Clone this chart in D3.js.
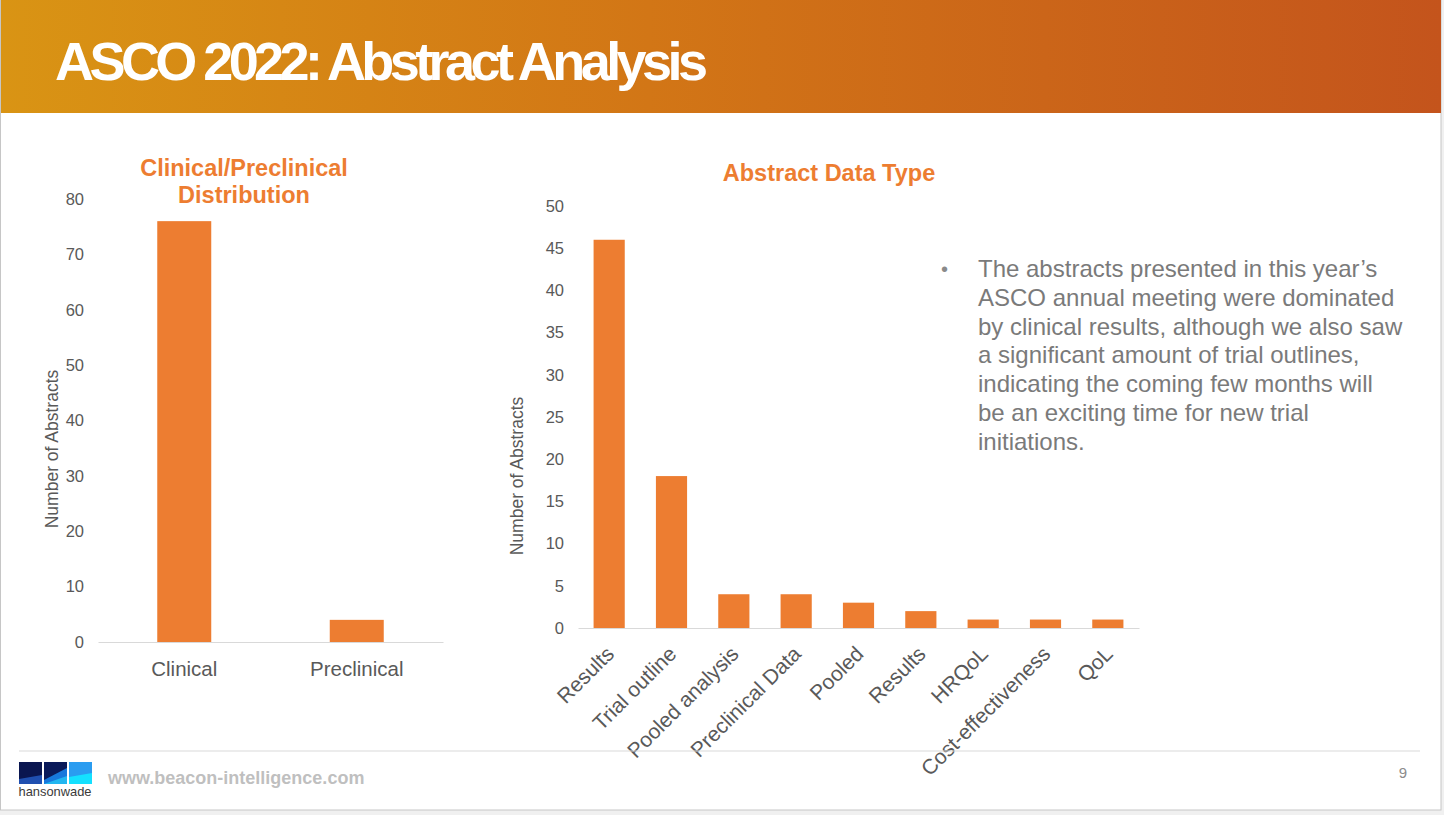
<!DOCTYPE html>
<html>
<head>
<meta charset="utf-8">
<script src="https://cdn.jsdelivr.net/npm/d3@7"></script>
<style>
  html, body { margin: 0; padding: 0; background: #f0f0f0; }
  svg { display: block; font-family: "Liberation Sans", Arial, sans-serif; }
</style>
</head>
<body>
<svg id="chart" width="1444" height="815"></svg>
<script>
// ---------------- data ----------------
const slideTitle = "ASCO 2022: Abstract Analysis";

const leftTitle = ["Clinical/Preclinical", "Distribution"];
const leftCategories = ["Clinical", "Preclinical"];
const leftValues = [76, 4];
const leftTicks = [0, 10, 20, 30, 40, 50, 60, 70, 80];

const rightTitle = "Abstract Data Type";
const rightCategories = ["Results", "Trial outline", "Pooled analysis", "Preclinical Data", "Pooled", "Results", "HRQoL", "Cost-effectiveness", "QoL"];
const rightValues = [46, 18, 4, 4, 3, 2, 1, 1, 1];
const rightTicks = [0, 5, 10, 15, 20, 25, 30, 35, 40, 45, 50];

const yAxisTitle = "Number of Abstracts";

const bulletLines = [
  "The abstracts presented in this year\u2019s",
  "ASCO annual meeting were dominated",
  "by clinical results, although we also saw",
  "a significant amount of trial outlines,",
  "indicating the coming few months will",
  "be an exciting time for new trial",
  "initiations."
];

const footerUrl = "www.beacon-intelligence.com";
const logoText = "hansonwade";
const pageNumber = "9";

// ---------------- drawing ----------------
const svg = d3.select("#chart");
const ORANGE = "#ED7D31";
const AXIS_TEXT = "#595959";
const FONT = "Liberation Sans, Arial, sans-serif";

// slide background
svg.append("rect").attr("x", 0.5).attr("y", 0.5).attr("width", 1440.5).attr("height", 809.5)
  .attr("fill", "#ffffff").attr("stroke", "#c6c6c6").attr("stroke-width", 1);

// header band
const defs = svg.append("defs");
const grad = defs.append("linearGradient").attr("id", "hdr").attr("x1", "0%").attr("x2", "100%").attr("y1", "0%").attr("y2", "0%");
grad.append("stop").attr("offset", "0%").attr("stop-color", "#d99414");
grad.append("stop").attr("offset", "45%").attr("stop-color", "#d27616");
grad.append("stop").attr("offset", "100%").attr("stop-color", "#c4541c");
svg.append("rect").attr("x", 1).attr("y", 0).attr("width", 1440).attr("height", 113).attr("fill", "url(#hdr)");

svg.append("text").attr("x", 55).attr("y", 80)
  .attr("fill", "#ffffff").attr("font-weight", "bold").attr("font-size", 54)
  .attr("textLength", 653).attr("lengthAdjust", "spacing")
  .text(slideTitle);

// ---------- left chart ----------
const xL = d3.scaleBand().domain(leftCategories).range([98, 443]).padding(0);
const yL = d3.scaleLinear().domain([0, 80]).range([642, 199]);
const barWL = xL.bandwidth() * 0.313;

const gL = svg.append("g");
gL.append("text").attr("text-anchor", "middle").attr("fill", ORANGE)
  .attr("font-weight", "bold").attr("font-size", 23.5)
  .selectAll("tspan").data(leftTitle).join("tspan")
  .attr("x", 244).attr("y", (d, i) => 176 + i * 27).text(d => d);

const axLy = gL.append("g").attr("transform", "translate(90,0)")
  .call(d3.axisLeft(yL).tickValues(leftTicks).tickSize(0).tickPadding(6));
axLy.select(".domain").remove();
axLy.selectAll("text").attr("font-size", 16.5).attr("fill", AXIS_TEXT).attr("font-family", FONT);

gL.selectAll("rect.bar").data(leftValues).join("rect").attr("class", "bar")
  .attr("x", (d, i) => xL(leftCategories[i]) + (xL.bandwidth() - barWL) / 2)
  .attr("width", barWL)
  .attr("y", d => yL(d))
  .attr("height", d => yL(0) - yL(d))
  .attr("fill", ORANGE);

const axLx = gL.append("g").attr("transform", `translate(0,${yL(0)})`)
  .call(d3.axisBottom(xL).tickSize(0).tickSizeOuter(0).tickPadding(19));
axLx.select(".domain").attr("stroke", "#d9d9d9").attr("stroke-width", 1.2);
axLx.selectAll("text").attr("font-size", 20.5).attr("fill", AXIS_TEXT).attr("font-family", FONT);

gL.append("text").attr("transform", "translate(58,449) rotate(-90)")
  .attr("text-anchor", "middle").attr("font-size", 17.5).attr("fill", AXIS_TEXT)
  .text(yAxisTitle);

// ---------- right chart ----------
const idx = d3.range(rightCategories.length);
const xR = d3.scaleBand().domain(idx).range([578, 1139]).padding(0);
const yR = d3.scaleLinear().domain([0, 50]).range([628, 206]);
const barWR = xR.bandwidth() * 0.5;

const gR = svg.append("g");
gR.append("text").attr("x", 829).attr("y", 181).attr("text-anchor", "middle")
  .attr("fill", ORANGE).attr("font-weight", "bold").attr("font-size", 23.5)
  .text(rightTitle);

const axRy = gR.append("g").attr("transform", "translate(570,0)")
  .call(d3.axisLeft(yR).tickValues(rightTicks).tickSize(0).tickPadding(6));
axRy.select(".domain").remove();
axRy.selectAll("text").attr("font-size", 16.5).attr("fill", AXIS_TEXT).attr("font-family", FONT);

gR.selectAll("rect.bar").data(rightValues).join("rect").attr("class", "bar")
  .attr("x", (d, i) => xR(i) + (xR.bandwidth() - barWR) / 2)
  .attr("width", barWR)
  .attr("y", d => yR(d))
  .attr("height", d => yR(0) - yR(d))
  .attr("fill", ORANGE);

const axRx = gR.append("g").attr("transform", `translate(0,${yR(0)})`)
  .call(d3.axisBottom(xR).tickSize(0).tickSizeOuter(0).tickFormat(i => rightCategories[i]));
axRx.select(".domain").attr("stroke", "#d9d9d9").attr("stroke-width", 1.2);
axRx.selectAll("text")
  .attr("font-size", 21).attr("fill", AXIS_TEXT).attr("font-family", FONT)
  .attr("text-anchor", "end")
  .attr("y", null)
  .attr("transform", "translate(1,22) rotate(-45)")
  .attr("dy", "0.35em");

gR.append("text").attr("transform", "translate(523,476) rotate(-90)")
  .attr("text-anchor", "middle").attr("font-size", 17.5).attr("fill", AXIS_TEXT)
  .text(yAxisTitle);

// ---------- bullet text ----------
const gT = svg.append("g").attr("fill", "#7a7a7a").attr("font-size", 24);
gT.append("text").attr("x", 941).attr("y", 276).attr("font-size", 20).attr("fill", "#8a8a8a").text("\u2022");
gT.selectAll("text.line").data(bulletLines).join("text").attr("class", "line")
  .attr("x", 978).attr("y", (d, i) => 277 + i * 28.8).text(d => d);

// ---------- footer ----------
svg.append("line").attr("x1", 19).attr("x2", 1420).attr("y1", 751).attr("y2", 751)
  .attr("stroke", "#d9d9d9").attr("stroke-width", 1.2);

const logo = svg.append("g");
// square 1
logo.append("rect").attr("x", 19).attr("y", 762).attr("width", 23).attr("height", 22).attr("fill", "#0a1650");
logo.append("polygon").attr("points", "19,779 42,775 42,784 19,784").attr("fill", "#1f4fb0");
// square 2
logo.append("rect").attr("x", 44).attr("y", 762).attr("width", 23).attr("height", 22).attr("fill", "#1778dc");
logo.append("polygon").attr("points", "44,762 67,762 67,768 44,780").attr("fill", "#0a1a5a");
logo.append("polygon").attr("points", "44,784 67,776 67,784").attr("fill", "#21b6f0");
// square 3
logo.append("rect").attr("x", 69).attr("y", 762).attr("width", 23).attr("height", 22).attr("fill", "#2a9cf0");
logo.append("polygon").attr("points", "69,777 92,773 92,784 69,784").attr("fill", "#14e0ff");
logo.append("text").attr("x", 18.5).attr("y", 796).attr("font-size", 13).attr("fill", "#3a3a3a")
  .attr("textLength", 73).attr("lengthAdjust", "spacingAndGlyphs").text(logoText);

svg.append("text").attr("x", 108).attr("y", 784).attr("font-size", 18).attr("font-weight", "bold")
  .attr("fill", "#bfbfbf").text(footerUrl);

svg.append("text").attr("x", 1403).attr("y", 778).attr("text-anchor", "middle")
  .attr("font-size", 15).attr("fill", "#8c8c8c").text(pageNumber);
</script>
</body>
</html>
